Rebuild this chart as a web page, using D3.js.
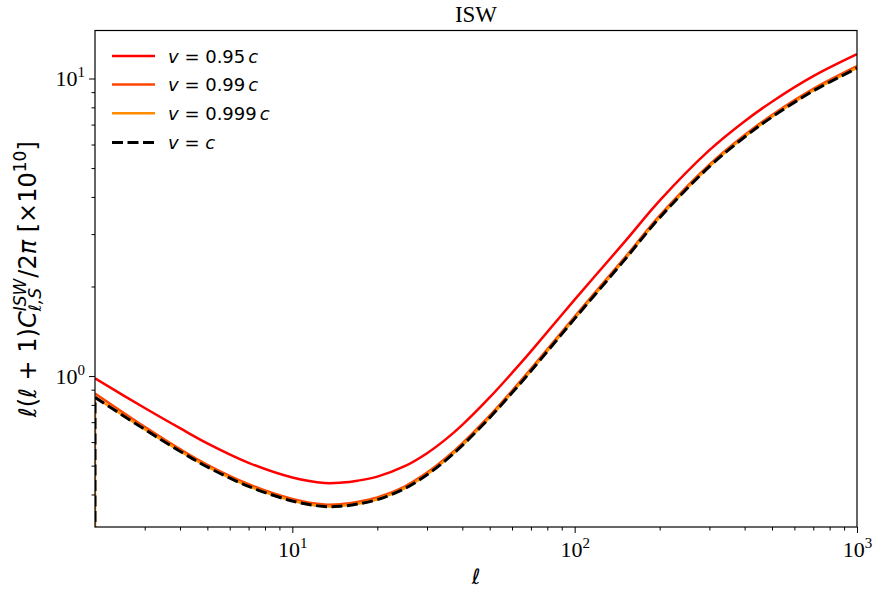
<!DOCTYPE html>
<html>
<head>
<meta charset="utf-8">
<script src="https://cdn.jsdelivr.net/npm/d3@7"></script>
<style>
  body { margin: 0; background: #fff; }
  svg { display: block; }
  .tick text { font-family: "Liberation Serif", "Times New Roman", serif; }
</style>
</head>
<body>
<div id="chart"></div>
<script>
const ells = [2, 3, 4, 5, 7, 10, 13, 15, 17, 20, 25, 30, 35, 40, 50, 60, 70, 100, 150, 200, 300, 400, 500, 700, 1000];

// l(l+1) C_l / 2pi  [x1e10]
const v095  = [0.982, 0.781, 0.668, 0.594, 0.511, 0.456, 0.437, 0.4385, 0.4449, 0.4594, 0.4977, 0.5505, 0.6138, 0.6856, 0.8477, 1.025, 1.211, 1.807, 2.818, 3.886, 5.743, 7.189, 8.357, 10.18, 12.07];
const v099  = [0.874, 0.675, 0.568, 0.503, 0.433, 0.3866, 0.3702, 0.3714, 0.3772, 0.3906, 0.4255, 0.4736, 0.5303, 0.5941, 0.7361, 0.8922, 1.057, 1.585, 2.492, 3.462, 5.136, 6.463, 7.543, 9.230, 11.00];
const v0999 = [0.850, 0.663, 0.560, 0.496, 0.427, 0.3813, 0.3650, 0.3667, 0.3724, 0.3856, 0.4201, 0.4675, 0.5235, 0.5865, 0.7267, 0.8808, 1.043, 1.565, 2.460, 3.417, 5.070, 6.380, 7.446, 9.112, 10.86];
const vc    = [0.848, 0.662, 0.559, 0.495, 0.426, 0.3805, 0.3643, 0.3656, 0.3713, 0.3844, 0.4188, 0.4661, 0.5219, 0.5847, 0.7245, 0.8782, 1.040, 1.560, 2.453, 3.407, 5.055, 6.361, 7.424, 9.085, 10.83];

const seriesLabels = ['0.95', '0.99', '0.999', null];
const seriesColors = ['#ff0000', '#ff4500', '#ff8c00', '#000000'];

const xMajor = [10, 100, 1000];
const xMinor = [3, 4, 5, 6, 7, 8, 9, 20, 30, 40, 50, 60, 70, 80, 90, 200, 300, 400, 500, 600, 700, 800, 900];
const yMajor = [1, 10];
const yMinor = [0.4, 0.5, 0.6, 0.7, 0.8, 0.9, 2, 3, 4, 5, 6, 7, 8, 9];

const W = 875, H = 594;
const margin = { left: 95, right: 18, top: 30.5, bottom: 67 };

const svg = d3.select('#chart').append('svg')
    .attr('width', W)
    .attr('height', H);

const x = d3.scaleLog().domain([2, 1000]).range([margin.left, W - margin.right]);
const y = d3.scaleLog().domain([0.311, 14.5]).range([H - margin.bottom, margin.top]);

// clip to plot area
svg.append('clipPath').attr('id', 'clip')
  .append('rect')
    .attr('x', margin.left).attr('y', margin.top)
    .attr('width', W - margin.left - margin.right)
    .attr('height', H - margin.top - margin.bottom);

const series = [
    { vals: v095,  lab: seriesLabels[0], color: seriesColors[0], dash: null, width: 2.5, drop: false },
    { vals: v099,  lab: seriesLabels[1], color: seriesColors[1], dash: null, width: 2.5, drop: false },
    { vals: v0999, lab: seriesLabels[2], color: seriesColors[2], dash: null, width: 2.5, drop: true },
    { vals: vc,    lab: seriesLabels[3], color: seriesColors[3], dash: '11,4.5', width: 3, drop: true }
];

const line = d3.line()
    .x(d => x(d[0]))
    .y(d => y(d[1]))
    .curve(d3.curveCatmullRom.alpha(0.5));

const plot = svg.append('g').attr('clip-path', 'url(#clip)');

series.forEach(s => {
    const pts = ells.map((l, i) => [l, s.vals[i]]);
    if (s.drop) {
        // first multipole falls to ~0 -> vertical segment at l = 2
        plot.append('path')
            .attr('d', d3.line().x(d => x(d[0])).y(d => y(d[1]))([[ells[0], 0.2], pts[0]]))
            .attr('fill', 'none')
            .attr('stroke', s.color)
            .attr('stroke-width', s.width)
            .attr('stroke-dasharray', s.dash);
    }
    plot.append('path')
        .datum(pts)
        .attr('d', line)
        .attr('fill', 'none')
        .attr('stroke', s.color)
        .attr('stroke-width', s.width)
        .attr('stroke-dasharray', s.dash);
});

// axes
function supLabel(sel, base, exp) {
    sel.append('tspan').text(base);
    sel.append('tspan').attr('dy', -9).attr('font-size', 15).text(exp);
}

svg.append('g')
    .attr('transform', `translate(0,${H - margin.bottom})`)
    .call(d3.axisBottom(x).tickValues(xMinor).tickSize(3.5).tickFormat(''));
const xAxis = svg.append('g')
    .attr('transform', `translate(0,${H - margin.bottom})`)
    .call(d3.axisBottom(x).tickValues(xMajor).tickSize(6).tickFormat(''));
xAxis.selectAll('.tick').append('text')
    .attr('fill', '#000')
    .attr('y', 30)
    .attr('font-size', 22)
    .attr('text-anchor', 'middle')
    .each(function(d) { supLabel(d3.select(this), '10', String(Math.round(Math.log10(d)))); });

svg.append('g')
    .attr('transform', `translate(${margin.left},0)`)
    .call(d3.axisLeft(y).tickValues(yMinor).tickSize(3.5).tickFormat(''));
const yAxis = svg.append('g')
    .attr('transform', `translate(${margin.left},0)`)
    .call(d3.axisLeft(y).tickValues(yMajor).tickSize(6).tickFormat(''));
yAxis.selectAll('.tick').append('text')
    .attr('fill', '#000')
    .attr('x', -10)
    .attr('y', 7)
    .attr('font-size', 22)
    .attr('text-anchor', 'end')
    .each(function(d) { supLabel(d3.select(this), '10', String(Math.round(Math.log10(d)))); });

svg.selectAll('.domain').remove();
svg.selectAll('.tick line').attr('stroke', '#000').attr('stroke-width', 1);

// frame
svg.append('rect')
    .attr('x', margin.left).attr('y', margin.top)
    .attr('width', W - margin.left - margin.right)
    .attr('height', H - margin.top - margin.bottom)
    .attr('fill', 'none')
    .attr('stroke', '#000')
    .attr('stroke-width', 1.2);

// title
svg.append('text')
    .attr('x', (margin.left + W - margin.right) / 2)
    .attr('y', 22)
    .attr('text-anchor', 'middle')
    .attr('font-family', '"Liberation Serif", serif')
    .attr('font-size', 23)
    .text('ISW');

// x label
svg.append('text')
    .attr('x', (margin.left + W - margin.right) / 2)
    .attr('y', 584)
    .attr('text-anchor', 'middle')
    .attr('font-family', '"DejaVu Sans", sans-serif')
    .attr('font-style', 'italic')
    .attr('font-size', 21)
    .text('ℓ');

// y label (mathtext-ish)
const yl = svg.append('g')
    .attr('transform', `translate(36,${(margin.top + H - margin.bottom) / 2}) rotate(-90)`)
  .append('text')
    .attr('font-family', '"DejaVu Sans", sans-serif')
    .attr('font-size', 24);
yl.append('tspan').attr('font-style', 'italic').text('ℓ');
yl.append('tspan').text('(');
yl.append('tspan').attr('font-style', 'italic').text('ℓ');
yl.append('tspan').text(' + 1)');
yl.append('tspan').attr('font-style', 'italic').text('C');
const supT = yl.append('tspan').attr('font-style', 'italic').attr('font-size', 17).attr('dy', -10).text('ISW');
const subT = yl.append('tspan').attr('font-style', 'italic').attr('font-size', 17).attr('dy', 15).text('ℓ,S');
const restT = yl.append('tspan').attr('dy', -5).text('/2');
yl.append('tspan').attr('font-style', 'italic').text('π');
yl.append('tspan').text('  [×10');
yl.append('tspan').attr('font-size', 17).attr('dy', -10).text('10');
yl.append('tspan').attr('dy', 10).text(']');
const wSup = supT.node().getComputedTextLength();
const wSub = subT.node().getComputedTextLength();
subT.attr('dx', -wSup);
restT.attr('dx', Math.max(0, wSup - wSub) + 1);
const bb = yl.node().getBBox();
yl.attr('x', -bb.width / 2);

// legend
const legY = [56, 84.5, 113.3, 142.5];
const leg = svg.append('g');
series.forEach((s, i) => {
    leg.append('line')
        .attr('x1', 112).attr('x2', 155)
        .attr('y1', legY[i]).attr('y2', legY[i])
        .attr('stroke', s.color)
        .attr('stroke-width', s.width)
        .attr('stroke-dasharray', s.dash);
    const t = leg.append('text')
        .attr('x', 168).attr('y', legY[i] + 6.5)
        .attr('font-family', '"DejaVu Sans", sans-serif')
        .attr('font-size', 18);
    t.append('tspan').attr('font-style', 'italic').text('v');
    t.append('tspan').text(' = ');
    if (s.lab) {
        t.append('tspan').text(s.lab);
        t.append('tspan').attr('dx', 3).attr('font-style', 'italic').text('c');
    } else {
        t.append('tspan').attr('font-style', 'italic').text('c');
    }
});
</script>
</body>
</html>
